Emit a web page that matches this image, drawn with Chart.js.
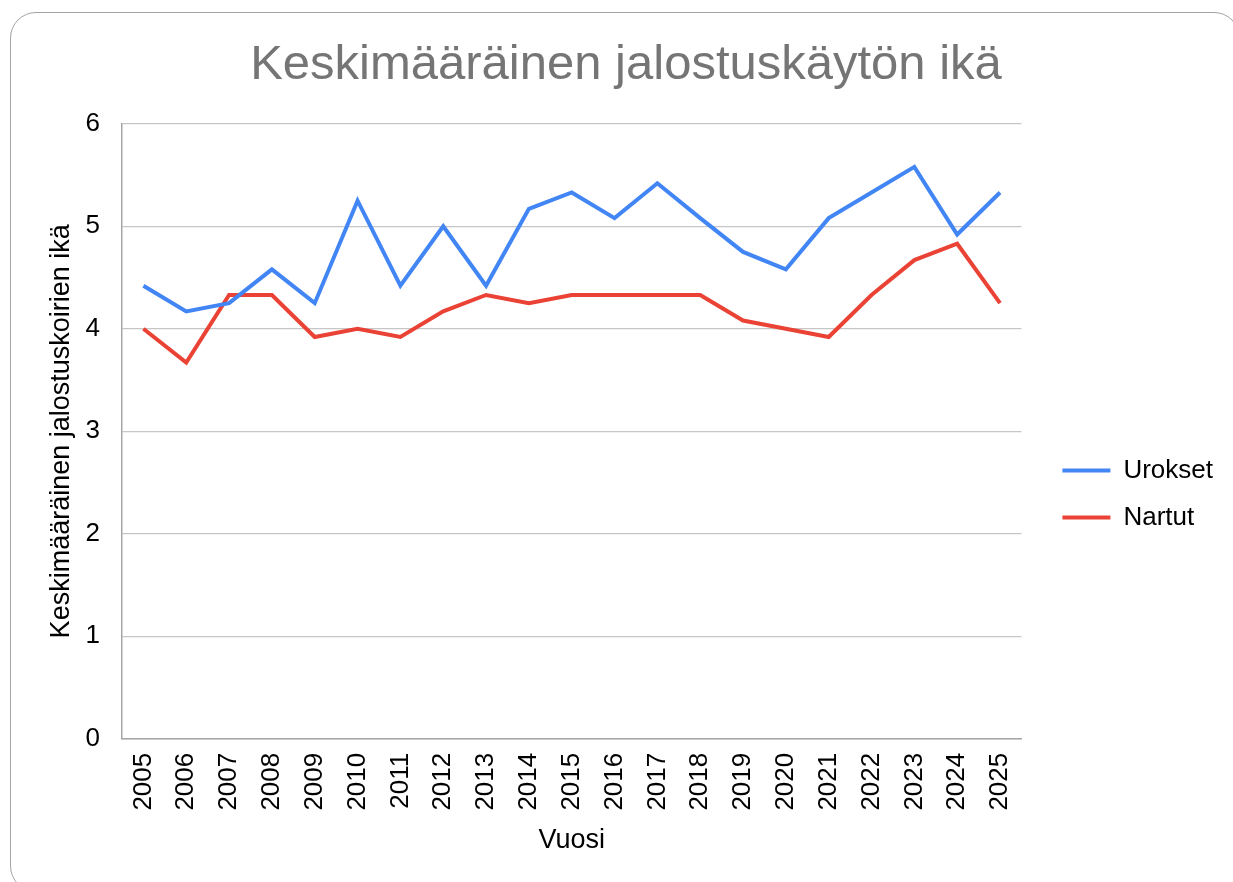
<!DOCTYPE html>
<html>
<head>
<meta charset="utf-8">
<script src="https://cdn.jsdelivr.net/npm/chart.js@4"></script>
<style>
    html, body { margin: 0; padding: 0; background: #fff; overflow: hidden; width: 1233px; height: 882px; }
    #card { position: absolute; left: 10px; top: 12px; width: 1230px; height: 880px; border: 1.5px solid #a3a3a3; border-radius: 26px; box-sizing: border-box; }
    #wrap { position: absolute; left: 10px; top: 12px; width: 1250px; height: 964px; }
</style>
</head>
<body>
<div id="card"></div>
<div id="wrap"><canvas id="chart"></canvas></div>
<script>
const years = ['2005', '2006', '2007', '2008', '2009', '2010', '2011', '2012', '2013', '2014', '2015',
               '2016', '2017', '2018', '2019', '2020', '2021', '2022', '2023', '2024', '2025'];
const urokset = [4.42, 4.17, 4.25, 4.58, 4.25, 5.25, 4.42, 5.0, 4.42, 5.17, 5.33,
                 5.08, 5.42, 5.08, 4.75, 4.58, 5.08, 5.33, 5.58, 4.92, 5.33];
const nartut = [4.0, 3.67, 4.33, 4.33, 3.92, 4.0, 3.92, 4.17, 4.33, 4.25, 4.33,
                4.33, 4.33, 4.33, 4.08, 4.0, 3.92, 4.33, 4.67, 4.83, 4.25];

const FONT = "'Liberation Sans', Arial, sans-serif";

const ctx = document.getElementById('chart').getContext('2d');
new Chart(ctx, {
    type: 'line',
    data: {
        labels: years,
        datasets: [
            {
                label: 'Urokset',
                data: urokset,
                borderColor: '#4285f4',
                backgroundColor: '#4285f4',
                borderWidth: 4,
                pointRadius: 0,
                tension: 0
            },
            {
                label: 'Nartut',
                data: nartut,
                borderColor: '#ea4335',
                backgroundColor: '#ea4335',
                borderWidth: 4,
                pointRadius: 0,
                tension: 0
            }
        ]
    },
    options: {
        responsive: true,
        maintainAspectRatio: false,
        animation: false,
        layout: { padding: { left: 19, right: 37, top: 0, bottom: 0 } },
        plugins: {
            tooltip: { enabled: false },
            title: {
                display: true,
                text: 'Keskimääräinen jalostuskäytön ikä',
                color: '#757575',
                font: { family: FONT, size: 49, weight: 'normal' },
                padding: { top: 24, bottom: 29 }
            },
            legend: {
                position: 'right',
                labels: {
                    usePointStyle: true,
                    pointStyle: 'line',
                    pointStyleWidth: 48,
                    boxHeight: 26,
                    padding: 21,
                    color: '#000',
                    font: { family: FONT, size: 26 }
                }
            }
        },
        scales: {
            x: {
                offset: true,
                grid: { display: false, drawTicks: false },
                border: { display: true, color: '#a6a6a6', width: 1.5 },
                ticks: {
                    color: '#000',
                    font: { family: FONT, size: 26 },
                    minRotation: 90,
                    maxRotation: 90,
                    autoSkip: false,
                    padding: 14
                },
                title: {
                    display: true,
                    text: 'Vuosi',
                    color: '#000',
                    font: { family: FONT, size: 27 },
                    padding: { top: 0, bottom: 119 }
                }
            },
            y: {
                min: 0,
                max: 6,
                grid: { color: '#c6c6c6', lineWidth: 1.3, drawTicks: false },
                border: { display: true, color: '#a6a6a6', width: 1.5 },
                ticks: {
                    stepSize: 1,
                    color: '#000',
                    font: { family: FONT, size: 26 },
                    padding: 22
                },
                title: {
                    display: true,
                    text: 'Keskimääräinen jalostuskoirien ikä',
                    color: '#000',
                    font: { family: FONT, size: 27 },
                    padding: { top: 16, bottom: 0 }
                },
                afterFit: (scale) => { scale.width = 93; }
            },
            gap: {
                position: 'right',
                display: true,
                grid: { display: false, drawTicks: false },
                border: { display: false },
                ticks: { display: false },
                afterFit: (scale) => { scale.width = 20; }
            }
        }
    }
});
</script>
</body>
</html>
